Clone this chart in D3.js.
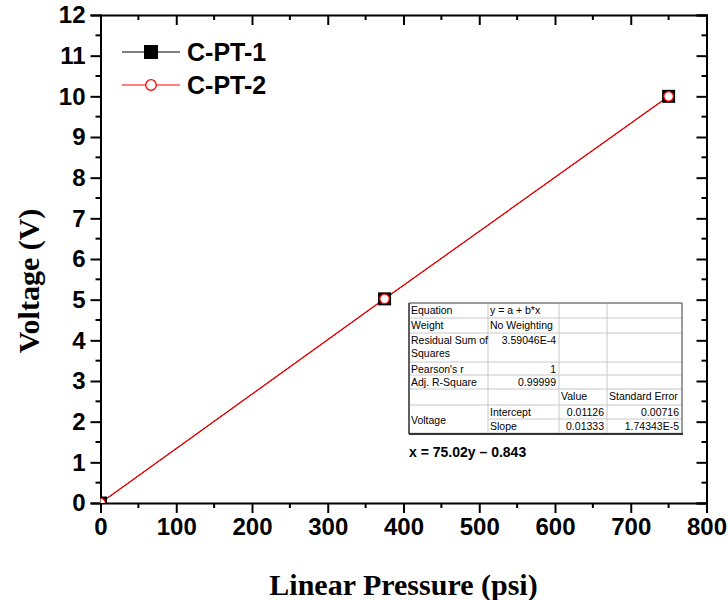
<!DOCTYPE html>
<html>
<head>
<meta charset="utf-8">
<script src="https://cdn.jsdelivr.net/npm/d3@7"></script>
<style>
  html, body { margin: 0; padding: 0; background: #fff; }
  svg { display: block; }
</style>
</head>
<body>
<svg id="chart" width="728" height="600"></svg>
<script>
// Calibration data: pressure (psi) vs. output voltage (V)
const pressure = [0, 375, 750];
const voltage1 = [0, 5.02, 10.0];   // C-PT-1
const voltage2 = [0, 5.02, 10.0];   // C-PT-2
const seriesNames = ["C-PT-1", "C-PT-2"];
const xTicks = [0, 100, 200, 300, 400, 500, 600, 700, 800];
const yTicks = [0, 1, 2, 3, 4, 5, 6, 7, 8, 9, 10, 11, 12];

// Linear fit summary
const fitRows = [
  ["Equation", "y = a + b*x", "", ""],
  ["Weight", "No Weighting", "", ""],
  ["Residual Sum of\nSquares", "3.59046E-4", "", ""],
  ["Pearson's r", "1", "", ""],
  ["Adj. R-Square", "0.99999", "", ""],
  ["", "", "Value", "Standard Error"],
  ["Voltage", "Intercept", "0.01126", "0.00716"],
  ["", "Slope", "0.01333", "1.74343E-5"]
];
const fitEquation = "x = 75.02y \u2013 0.843";

const svg = d3.select("#chart");
const pLeft = 100.5, pRight = 706.5, pTop = 15, pBottom = 503;

const x = d3.scaleLinear().domain([0, 800]).range([pLeft, pRight]);
const y = d3.scaleLinear().domain([0, 12]).range([pBottom, pTop]);

const defs = svg.append("defs");
defs.append("clipPath").attr("id", "plotClip")
  .append("rect").attr("x", pLeft).attr("y", pTop)
  .attr("width", pRight - pLeft).attr("height", pBottom - pTop);

const tickFont = "'Liberation Sans', Arial, sans-serif";
const serifFont = "'Liberation Serif', 'Times New Roman', serif";
const minorX = d3.range(50, 800, 100);
const minorY = d3.range(0.5, 12, 1);

// Bottom axis (outward ticks)
const gx = svg.append("g").attr("transform", `translate(0,${pBottom})`)
  .call(d3.axisBottom(x).tickValues(xTicks).tickSize(10).tickPadding(5).tickFormat(d3.format("d")));
gx.append("g").selectAll("line").data(minorX).join("line")
  .attr("x1", d => x(d)).attr("x2", d => x(d)).attr("y1", 0).attr("y2", 5)
  .attr("stroke", "#000").attr("stroke-width", 2);

// Left axis (outward ticks)
const gy = svg.append("g").attr("transform", `translate(${pLeft},0)`)
  .call(d3.axisLeft(y).tickValues(yTicks).tickSize(10).tickPadding(5).tickFormat(d3.format("d")));
gy.append("g").selectAll("line").data(minorY).join("line")
  .attr("y1", d => y(d)).attr("y2", d => y(d)).attr("x1", 0).attr("x2", -5)
  .attr("stroke", "#000").attr("stroke-width", 2);

// Top axis (inward ticks)
const gt = svg.append("g").attr("transform", `translate(0,${pTop})`)
  .call(d3.axisTop(x).tickValues(xTicks).tickSize(-10).tickFormat(""));
gt.append("g").selectAll("line").data(minorX).join("line")
  .attr("x1", d => x(d)).attr("x2", d => x(d)).attr("y1", 0).attr("y2", 5)
  .attr("stroke", "#000").attr("stroke-width", 2);

// Right axis (inward ticks)
const gr = svg.append("g").attr("transform", `translate(${pRight},0)`)
  .call(d3.axisRight(y).tickValues(yTicks).tickSize(-10).tickFormat(""));
gr.append("g").selectAll("line").data(minorY).join("line")
  .attr("y1", d => y(d)).attr("y2", d => y(d)).attr("x1", 0).attr("x2", -5)
  .attr("stroke", "#000").attr("stroke-width", 2);

svg.selectAll(".domain").attr("stroke", "#000").attr("stroke-width", 2);
svg.selectAll(".tick line").attr("stroke", "#000").attr("stroke-width", 2);
svg.selectAll(".tick text")
  .attr("font-family", tickFont).attr("font-weight", "bold")
  .attr("font-size", 24).attr("fill", "#000");

// Axis titles
svg.append("text").attr("x", (pLeft + pRight) / 2).attr("y", 595)
  .attr("text-anchor", "middle")
  .attr("font-family", serifFont)
  .attr("font-weight", "bold").attr("font-size", 30).text("Linear Pressure (psi)");
svg.append("text").attr("transform", `translate(39,281) rotate(-90)`)
  .attr("text-anchor", "middle")
  .attr("font-family", serifFont)
  .attr("font-weight", "bold").attr("font-size", 30).text("Voltage (V)");

// Data series
const plot = svg.append("g").attr("clip-path", "url(#plotClip)");
const line = d3.line().x(d => x(d[0])).y(d => y(d[1]));
const s1 = pressure.map((p, i) => [p, voltage1[i]]);
const s2 = pressure.map((p, i) => [p, voltage2[i]]);

plot.append("path").datum(s1).attr("d", line)
  .attr("fill", "none").attr("stroke", "#000").attr("stroke-width", 1);
plot.append("path").datum(s2).attr("d", line)
  .attr("fill", "none").attr("stroke", "#ff0000").attr("stroke-width", 1.2);
plot.selectAll("rect.m1").data(s1).join("rect").attr("class", "m1")
  .attr("x", d => x(d[0]) - 6.5).attr("y", d => y(d[1]) - 6.5)
  .attr("width", 13).attr("height", 13).attr("fill", "#000");
plot.selectAll("circle.m2").data(s2).join("circle").attr("class", "m2")
  .attr("cx", d => x(d[0])).attr("cy", d => y(d[1])).attr("r", 4.8)
  .attr("fill", "#fff").attr("stroke", "#ff0000").attr("stroke-width", 1.3);

// Legend
const legend = svg.append("g");
const legY = [52, 85];
legend.append("line").attr("x1", 122).attr("x2", 180).attr("y1", legY[0]).attr("y2", legY[0])
  .attr("stroke", "#000").attr("stroke-width", 1);
legend.append("rect").attr("x", 144).attr("y", legY[0] - 7).attr("width", 14).attr("height", 14).attr("fill", "#000");
legend.append("line").attr("x1", 122).attr("x2", 180).attr("y1", legY[1]).attr("y2", legY[1])
  .attr("stroke", "#ff0000").attr("stroke-width", 1);
legend.append("circle").attr("cx", 151).attr("cy", legY[1]).attr("r", 5.3)
  .attr("fill", "#fff").attr("stroke", "#ff0000").attr("stroke-width", 1.3);
legend.selectAll("text").data(seriesNames).join("text")
  .attr("x", 187).attr("y", (d, i) => legY[i] + 9)
  .attr("font-family", tickFont).attr("font-weight", "bold").attr("font-size", 25)
  .text(d => d);

// Fit results table
const colX = [409, 488, 559, 607, 682];
const rowY = [303, 318, 333, 362, 375, 389, 405, 419, 433];
const table = svg.append("g");
table.append("rect").attr("x", colX[0]).attr("y", rowY[0])
  .attr("width", colX[4] - colX[0]).attr("height", rowY[8] - rowY[0])
  .attr("fill", "#fff").attr("stroke", "#c8c8c8").attr("stroke-width", 1);
// Horizontal rules (the last one spans only the inner columns)
rowY.slice(1, 8).forEach((ry, i) => {
  const x0 = (i + 1 === 7) ? colX[1] : colX[0];
  table.append("line").attr("x1", x0).attr("x2", colX[4]).attr("y1", ry).attr("y2", ry)
    .attr("stroke", "#c8c8c8").attr("stroke-width", 1);
});
colX.slice(1, 4).forEach(cx => {
  table.append("line").attr("x1", cx).attr("x2", cx).attr("y1", rowY[0]).attr("y2", rowY[8])
    .attr("stroke", "#c8c8c8").attr("stroke-width", 1);
});
// Dark outer frame on left and bottom, lighter on top and right
table.append("line").attr("x1", colX[0]).attr("x2", colX[0]).attr("y1", rowY[0]).attr("y2", rowY[8] + 1)
  .attr("stroke", "#333").attr("stroke-width", 1.5);
table.append("line").attr("x1", colX[0]).attr("x2", colX[4] + 1).attr("y1", rowY[8] + 1).attr("y2", rowY[8] + 1)
  .attr("stroke", "#333").attr("stroke-width", 2);
table.append("line").attr("x1", colX[0]).attr("x2", colX[4]).attr("y1", rowY[0]).attr("y2", rowY[0])
  .attr("stroke", "#555").attr("stroke-width", 1);
table.append("line").attr("x1", colX[4]).attr("x2", colX[4]).attr("y1", rowY[0]).attr("y2", rowY[8])
  .attr("stroke", "#555").attr("stroke-width", 1);

fitRows.forEach((row, r) => {
  row.forEach((cell, c) => {
    if (!cell) return;
    const rightAlign = (r >= 2 && r <= 4 && c === 1) || (r >= 6 && c >= 2);
    let ty = rowY[r] + 11;
    if (r === 6 && c === 0) ty = rowY[6] + 19;
    const lines = cell.split("\n");
    const t = table.append("text")
      .attr("font-family", tickFont).attr("font-size", 10.5).attr("fill", "#000")
      .attr("text-anchor", rightAlign ? "end" : "start");
    lines.forEach((ln, k) => {
      t.append("tspan")
        .attr("x", rightAlign ? colX[c + 1] - 3 : colX[c] + 2)
        .attr("y", ty + k * 13)
        .text(ln);
    });
  });
});
table.append("text").attr("x", 409).attr("y", 457)
  .attr("font-family", tickFont).attr("font-weight", "bold").attr("font-size", 14)
  .text(fitEquation);
</script>
</body>
</html>
